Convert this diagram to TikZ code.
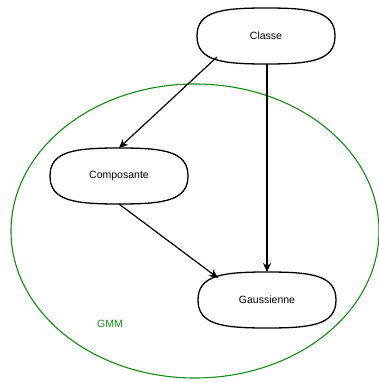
\documentclass[tikz,border=0pt]{standalone}
\usepackage{fontspec}
\setmainfont{Liberation Sans}
\usetikzlibrary{shapes.geometric,arrows.meta}
\definecolor{gmmgreen}{RGB}{20,140,20}
\begin{document}
\begin{tikzpicture}[x=1pt,y=-1pt,
  var/.style={rectangle,outer sep=0pt,
    minimum width=138pt,minimum height=56pt,font=\fontsize{10.5}{12}\selectfont},
  outline/.style={draw,line width=1.3pt},
  dep/.style={-{Stealth[length=9pt,width=8pt]},line width=1.2pt}]
  \useasboundingbox (0,0) rectangle (378,382);
  \node (gmm) [draw=gmmgreen,line width=1.1pt,ellipse,
    minimum width=368pt,minimum height=294pt] at (195,231) {};
  \node (classe) [var] at (266,36) {Classe};
  \node (comp) [var] at (119,176) {Composante};
  \node (gauss) [var] at (267,300) {Gaussienne};
  \node (lbl) [text=gmmgreen,font=\fontsize{10.5}{12}\selectfont] at (110,324) {GMM};
  % rounded outlines of the variables
  \foreach \n in {classe,comp,gauss}
    \draw[outline] (\n.west) .. controls +(0,-25) and +(-44,0) .. (\n.north)
      .. controls +(44,0) and +(0,-25) .. (\n.east)
      .. controls +(0,25) and +(44,0) .. (\n.south)
      .. controls +(-44,0) and +(0,25) .. (\n.west) -- cycle;
  \coordinate (c1) at ([shift={(20,-7)}]classe.south west);
  \coordinate (g1) at ([shift={(20,6)}]gauss.north west);
  \draw[dep] (c1) -- (comp.north);
  \draw[dep] (classe.south -| gauss.north) -- (gauss.north);
  \draw[dep] (comp.south) -- (g1);
\end{tikzpicture}
\end{document}
